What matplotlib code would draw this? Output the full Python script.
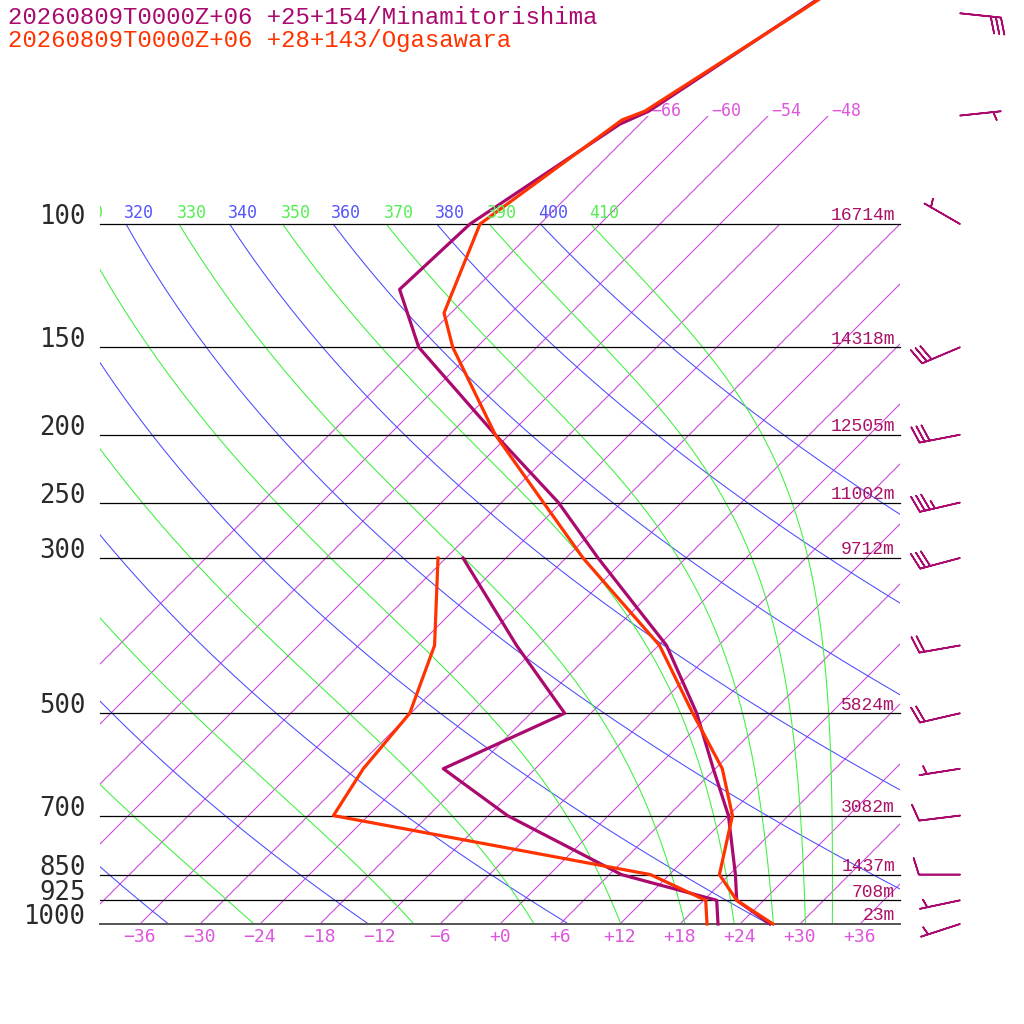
import numpy as np
import matplotlib
matplotlib.use('Agg')
import matplotlib.pyplot as plt
from matplotlib.patches import Rectangle
from matplotlib.transforms import Bbox

# --- soundings (hPa, degC) ---
titles = ['20260809T0000Z+06 +25+154/Minamitorishima',
          '20260809T0000Z+06 +28+143/Ogasawara']
colors = ['#aa0a6e', '#ff3300']

mina_t_p = [1000, 925, 850, 700, 600, 500, 400, 300, 250, 200, 150, 124, 100, 72, 69, 50, 40]
mina_t = [27.0, 21.3, 18.6, 12.0, 5.8, -1.4, -11.2, -26.8, -36.3, -49.4, -65.8, -73.5, -73.0,
          -68.0, -66.4, -61.4, -58.0]
mina_td_p = [1000, 925, 850, 700, 600, 500, 400, 300]
mina_td = [21.8, 19.3, 7.2, -10.1, -21.2, -14.6, -26.2, -40.3]

ogas_t_p = [1000, 925, 850, 700, 600, 500, 400, 300, 250, 200, 150, 134, 100, 71, 69, 50, 40]
ogas_t = [27.3, 21.3, 17.0, 12.4, 6.7, -1.8, -11.9, -28.3, -37.8, -49.4, -62.4, -66.7, -72.0,
          -68.2, -66.8, -61.3, -57.7]
ogas_td_p = [1000, 925, 850, 700, 600, 500, 400, 300]
ogas_td = [20.7, 18.2, 10.1, -27.5, -29.2, -30.1, -34.4, -42.8]

# Minamitorishima winds (direction from, knots)
wind_p = [1000, 925, 850, 700, 600, 500, 400, 300, 250, 200, 150, 100, 70, 50]
wind_dir = [252, 258, 270, 263, 261, 257, 260, 255, 257, 259, 247, 300, 84, 96]
wind_kt = [5, 5, 10, 10, 5, 20, 20, 30, 35, 30, 30, 5, 5, 30]

levels = [100, 150, 200, 250, 300, 500, 700, 850, 925, 1000]
heights = ['16714m', '14318m', '12505m', '11002m', '9712m', '5824m', '3082m', '1437m', '708m', '23m']

x_ticks = [-36, -30, -24, -18, -12, -6, 0, 6, 12, 18, 24, 30, 36]
isotherms = list(range(-66, 37, 6))
iso_labels = [-66, -60, -54, -48]
dry_theta = list(range(240, 401, 20))
moist_theta_e = list(range(250, 411, 20))

SKEW = 70.0  # degC of skew per decade of pressure


def skew(t, p):
    return np.asarray(t, float) + SKEW * np.log10(1000.0 / np.asarray(p, float))


def theta_e_sat(tc, p):
    # Bolton (1980) equivalent potential temperature of saturated air
    tk = tc + 273.15
    e = np.minimum(6.112 * np.exp(17.67 * tc / (tc + 243.5)), 0.5 * p)
    r = 0.622 * e / (p - e)
    return (tk * (1000.0 / p) ** (0.2854 * (1 - 0.28 * r))
            * np.exp((3.376 / tk - 0.00254) * r * 1000 * (1 + 0.81 * r)))


def moist_curve(the, p):
    lo = np.full(p.shape, -130.0)
    hi = np.full(p.shape, 45.0)
    for _ in range(60):
        mid = 0.5 * (lo + hi)
        low = theta_e_sat(mid, p) < the
        lo = np.where(low, mid, lo)
        hi = np.where(low, hi, mid)
    return 0.5 * (lo + hi)


p_top = 1000.0 / 10 ** (924 / 700)
p_bot = 1000.0 * 10 ** (100 / 700)

fig = plt.figure(figsize=(10.24, 10.24), dpi=100)
ax = fig.add_axes([0, 0, 1, 1])
ax.set_yscale('log')
ax.set_xlim(-50, 52.4)
ax.set_ylim(p_bot, p_top)
ax.axis('off')

clip_100 = Rectangle((-40, 100), 80, 900, transform=ax.transData)
clip_70 = Rectangle((-40, 70), 80, 930, transform=ax.transData)
label_box = Bbox.from_extents(100, 0, 900, 1024)
CHAR_W = 12 / 72 * 100 * 0.602  # pixel advance of 12pt DejaVu Sans Mono

pp = np.logspace(3, 2, 400)


def adiabat_label(x, s, color):
    # put the label at the top end of the line, cut off at the left frame
    left = 500 + 10 * x - 2
    keep = [i for i in range(len(s)) if left + (i + 1) * CHAR_W > 100]
    if not keep:
        return
    i0 = keep[0]
    txt = ax.annotate(s[i0:], (x, 100), xytext=(-2 + i0 * CHAR_W, 6),
                      textcoords='offset pixels', color=color, fontsize=12,
                      family='DejaVu Sans Mono', ha='left', va='baseline')
    txt.set_clip_box(label_box)
    txt.set_clip_on(True)


# isotherms
for t in isotherms:
    ptop = 70 if t <= -48 else 100
    ps = np.array([1000, ptop])
    ln, = ax.plot(skew([t, t], ps), ps, color='#cc44dd', lw=0.75)
    ln.set_clip_path(clip_70 if t <= -48 else clip_100)
for t in iso_labels:
    ax.annotate('\u2212%d' % -t, (skew(t, 70), 70), xytext=(3, 0),
                textcoords='offset pixels', color='#dd55dd', fontsize=12,
                family='DejaVu Sans Mono', ha='left', va='baseline')

# dry adiabats
for th in dry_theta:
    tt = th * (pp / 1000.0) ** 0.2857 - 273.15
    ln, = ax.plot(skew(tt, pp), pp, color='#4a4aff', lw=0.75)
    ln.set_clip_path(clip_100)
    adiabat_label(skew(tt[-1], 100), str(th), '#5555ff')

# pseudo-adiabats
for the in moist_theta_e:
    tt = moist_curve(the, pp)
    ln, = ax.plot(skew(tt, pp), pp, color='#3cf03c', lw=0.75)
    ln.set_clip_path(clip_100)
    adiabat_label(skew(tt[-1], 100), str(the), '#55ee55')

# isobars with labels
for p, h in zip(levels, heights):
    if p == 1000:
        ax.plot([-40, 40], [p, p], color='#555555', lw=1.4)
    else:
        ax.plot([-40, 40], [p, p], color='black', lw=0.9)
    ax.annotate(str(p), (-41.4, p), xytext=(0, 7), textcoords='offset pixels',
                ha='right', va='center', fontsize=18.5, family='DejaVu Sans Mono',
                color='#2a2a2a')
    ax.annotate(h, (39.5, p), xytext=(0, 8), textcoords='offset pixels',
                ha='right', va='center', fontsize=13, family='Liberation Mono',
                color='#aa1166')

for t in x_ticks:
    s = ('\u2212%d' % -t) if t < 0 else '+%d' % t
    ax.annotate(s, (t, 1000), xytext=(0, -13), textcoords='offset pixels',
                ha='center', va='center', fontsize=13, family='DejaVu Sans Mono',
                color='#dd55dd')

# soundings
ax.plot(skew(mina_t, mina_t_p), mina_t_p, color=colors[0], lw=2.3)
ax.plot(skew(mina_td, mina_td_p), mina_td_p, color=colors[0], lw=2.3)
ax.plot(skew(ogas_t, ogas_t_p), ogas_t_p, color=colors[1], lw=2.3)
ax.plot(skew(ogas_td, ogas_td_p), ogas_td_p, color=colors[1], lw=2.3)

# wind barbs
wd = np.radians(wind_dir)
u = -np.array(wind_kt) * np.sin(wd)
v = -np.array(wind_kt) * np.cos(wd)
ax.barbs(np.full(len(wind_p), 46.0), wind_p, u, v, length=7.7,
         color=colors[0], linewidth=1.2, pivot='tip')

for i, (s, c) in enumerate(zip(titles, colors)):
    fig.text(8 / 1024, 1 - (18 + 23 * i) / 1024, s, color=c, fontsize=17.3,
             family='Liberation Mono', ha='left', va='center')

fig.savefig('out.png', dpi=100, facecolor='white')
